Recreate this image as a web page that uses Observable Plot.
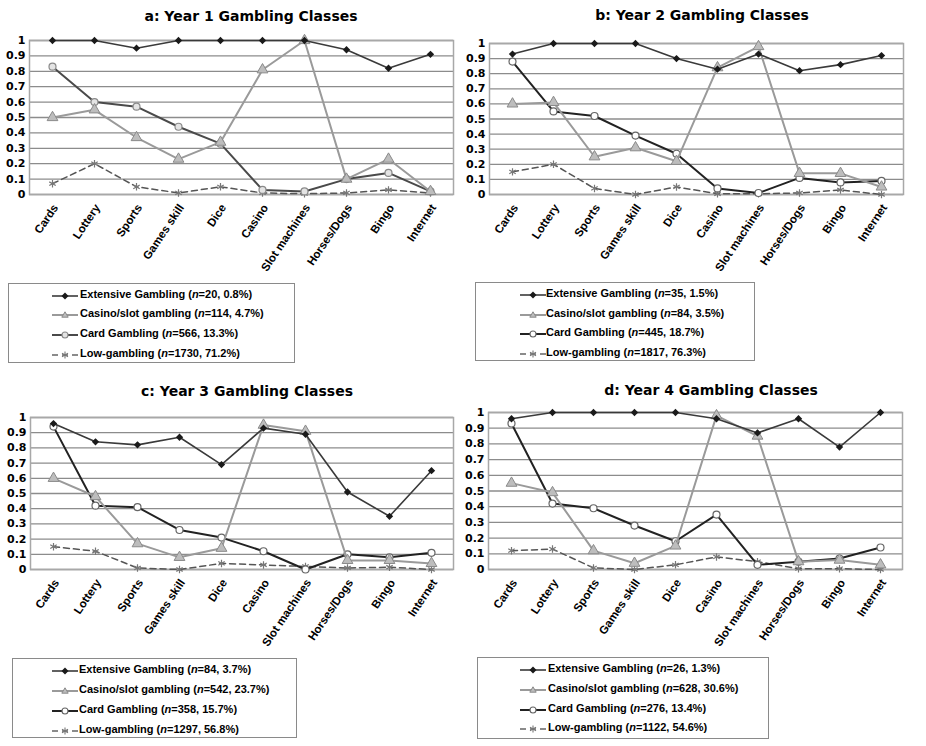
<!DOCTYPE html>
<html><head><meta charset="utf-8">
<script src="https://cdn.jsdelivr.net/npm/d3@7"></script>
<script src="https://cdn.jsdelivr.net/npm/@observablehq/plot@0.6"></script>
<style>
body{margin:0;background:#fff;}
#root{position:relative;width:926px;height:746px;overflow:hidden;font-family:"Liberation Sans",Arial,sans-serif;}
.panel{position:absolute;}
.title{position:absolute;font-family:"DejaVu Sans",sans-serif;font-weight:bold;font-size:14px;line-height:14px;white-space:nowrap;transform:translateX(-50%);color:#000;}
.legend{position:absolute;border:1.5px solid #8a8a8a;box-sizing:border-box;}
.item{position:absolute;font-weight:bold;font-size:11px;line-height:11px;white-space:nowrap;color:#000;}
.sw{position:absolute;}
</style></head><body><div id="root"></div>
<script>
// ---- data ----
const categories = ["Cards","Lottery","Sports","Games skill","Dice","Casino","Slot machines","Horses/Dogs","Bingo","Internet"];
const yTicks = [0,0.1,0.2,0.3,0.4,0.5,0.6,0.7,0.8,0.9,1];
const seriesNames = ["Extensive Gambling","Casino/slot gambling","Card Gambling","Low-gambling"];
const panelTitles = ["a: Year 1 Gambling Classes","b: Year 2 Gambling Classes","c: Year 3 Gambling Classes","d: Year 4 Gambling Classes"];

const y1Extensive = [1,1,0.95,1,1,1,1,0.94,0.82,0.91];
const y1Casino    = [0.50,0.55,0.37,0.23,0.34,0.81,1.00,0.10,0.23,0.02];
const y1Card      = [0.83,0.60,0.57,0.44,0.33,0.03,0.02,0.10,0.14,0.02];
const y1Low       = [0.07,0.20,0.05,0.01,0.05,0.01,0.005,0.01,0.03,0.01];
const y1Legend    = [["20","0.8%"],["114","4.7%"],["566","13.3%"],["1730","71.2%"]];

const y2Extensive = [0.93,1,1,1,0.90,0.83,0.93,0.82,0.86,0.92];
const y2Casino    = [0.60,0.61,0.25,0.31,0.22,0.84,0.98,0.14,0.14,0.05];
const y2Card      = [0.88,0.55,0.52,0.39,0.27,0.04,0.01,0.11,0.08,0.09];
const y2Low       = [0.15,0.20,0.04,0.00,0.05,0.005,0.005,0.01,0.03,0.00];
const y2Legend    = [["35","1.5%"],["84","3.5%"],["445","18.7%"],["1817","76.3%"]];

const y3Extensive = [0.96,0.84,0.82,0.87,0.69,0.93,0.89,0.51,0.35,0.65];
const y3Casino    = [0.60,0.48,0.17,0.08,0.14,0.95,0.91,0.06,0.06,0.04];
const y3Card      = [0.94,0.42,0.41,0.26,0.21,0.12,0.00,0.10,0.08,0.11];
const y3Low       = [0.15,0.12,0.01,0.00,0.04,0.03,0.02,0.01,0.015,0.00];
const y3Legend    = [["84","3.7%"],["542","23.7%"],["358","15.7%"],["1297","56.8%"]];

const y4Extensive = [0.96,1,1,1,1,0.96,0.87,0.96,0.78,1];
const y4Casino    = [0.55,0.49,0.12,0.04,0.15,0.98,0.85,0.05,0.06,0.03];
const y4Card      = [0.93,0.42,0.39,0.28,0.18,0.35,0.03,0.05,0.07,0.14];
const y4Low       = [0.12,0.13,0.01,0.00,0.03,0.08,0.05,0.005,0.005,0.00];
const y4Legend    = [["26","1.3%"],["628","30.6%"],["276","13.4%"],["1122","54.6%"]];

// ---- layout ----
const root = document.getElementById("root");
const panels = [
  {series:[y1Extensive,y1Casino,y1Card,y1Low], legend:y1Legend, left:0, top:0, ml:29, mr:10, mt:40, y0:194,
   title:[251,9], box:[8,283,287,80], rows:[294,313,333,353], swX:52, textX:80, cardFill:"#e4e4e4", cardStroke:"#8a8a8a", cardLine:"#4a4a4a"},
  {series:[y2Extensive,y2Casino,y2Card,y2Low], legend:y2Legend, left:463, top:0, ml:26, mr:23, mt:43, y0:194,
   title:[702,8], box:[475,282,280,79], rows:[293,313,332,352], swX:520, textX:546, cardFill:"#fff", cardStroke:"#666", cardLine:"#222"},
  {series:[y3Extensive,y3Casino,y3Card,y3Low], legend:y3Legend, left:0, top:370, ml:30, mr:10, mt:47, y0:199,
   title:[247,384], box:[12,658,285,80], rows:[669,689,709,729], swX:52, textX:79, cardFill:"#fff", cardStroke:"#666", cardLine:"#222"},
  {series:[y4Extensive,y4Casino,y4Card,y4Low], legend:y4Legend, left:463, top:370, ml:25, mr:24, mt:42, y0:199,
   title:[711,383], box:[477,657,292,82], rows:[668,688,708,727], swX:520, textX:548, cardFill:"#fff", cardStroke:"#666", cardLine:"#222"}
];

const H = 280;
panels.forEach((p, pi) => {
  const rows = [];
  p.series.forEach((vals, si) => vals.forEach((v, i) => rows.push({cat: categories[i], value: v, series: seriesNames[si]})));
  const by = s => rows.filter(r => r.series === s);
  const [ext, cas, card, low] = seriesNames.map(by);
  const svg = Plot.plot({
    width: 463, height: H,
    marginLeft: p.ml, marginRight: p.mr, marginTop: p.mt, marginBottom: H - p.y0,
    x: {type: "point", domain: categories, padding: 0.5, label: null},
    y: {domain: [0, 1], label: null},
    style: {fontFamily: "Liberation Sans, Arial, sans-serif", background: "transparent", overflow: "visible"},
    marks: [
      Plot.ruleY(yTicks, {stroke: "#8c8c8c", strokeWidth: 1.3}),
      Plot.frame({stroke: "#a8a8a8", strokeWidth: 1.5}),
      Plot.axisY(yTicks, {label: null, tickSize: 0, tickPadding: 4, tickFormat: d => String(+d.toFixed(1)),
        fontFamily: "DejaVu Sans", fontWeight: "bold", fontSize: 11, fill: "#000"}),
      Plot.axisX({label: null, tickSize: 0, tickRotate: -56, tickPadding: 11, dx: 3, fontWeight: "bold", fontSize: 11.5, fill: "#000"}),
      Plot.line(low, {x: "cat", y: "value", stroke: "#555", strokeWidth: 1.5, strokeDasharray: "6,4"}),
      Plot.dot(low, {x: "cat", y: "value", symbol: "asterisk", r: 3.5, stroke: "#777", strokeWidth: 1.2}),
      Plot.line(card, {x: "cat", y: "value", stroke: p.cardLine, strokeWidth: 2}),
      Plot.dot(card, {x: "cat", y: "value", symbol: "circle", r: 3.5, fill: p.cardFill, stroke: p.cardStroke, strokeWidth: 1.2}),
      Plot.line(cas, {x: "cat", y: "value", stroke: "#9a9a9a", strokeWidth: 2}),
      Plot.dot(cas, {x: "cat", y: "value", symbol: "triangle", r: 4, fill: "#bdbdbd", stroke: "#8a8a8a", strokeWidth: 1}),
      Plot.line(ext, {x: "cat", y: "value", stroke: "#3a3a3a", strokeWidth: 1.6}),
      Plot.dot(ext, {x: "cat", y: "value", symbol: "diamond2", r: 3.3, fill: "#1a1a1a", stroke: "none"})
    ]
  });
  const wrap = document.createElement("div");
  wrap.className = "panel";
  wrap.style.left = p.left + "px"; wrap.style.top = p.top + "px";
  wrap.appendChild(svg);
  root.appendChild(wrap);

  const t = document.createElement("div");
  t.className = "title";
  t.style.left = p.title[0] + "px"; t.style.top = p.title[1] + "px";
  t.textContent = panelTitles[pi];
  root.appendChild(t);

  const box = document.createElement("div");
  box.className = "legend";
  box.style.left = p.box[0] + "px"; box.style.top = p.box[1] + "px";
  box.style.width = p.box[2] + "px"; box.style.height = p.box[3] + "px";
  root.appendChild(box);

  const swatches = [
    `<line x1="0" y1="6" x2="26" y2="6" stroke="#3a3a3a" stroke-width="1.6"/><path d="M13,2.5L16.5,6L13,9.5L9.5,6Z" fill="#1a1a1a"/>`,
    `<line x1="0" y1="6" x2="26" y2="6" stroke="#9a9a9a" stroke-width="2"/><path d="M13,2.8L16.2,8.2L9.8,8.2Z" fill="#bdbdbd" stroke="#8a8a8a" stroke-width="1"/>`,
    `<line x1="0" y1="6" x2="26" y2="6" stroke="${p.cardLine}" stroke-width="2"/><circle cx="13" cy="6" r="3" fill="${p.cardFill}" stroke="${p.cardStroke}" stroke-width="1.1"/>`,
    `<line x1="0" y1="6" x2="26" y2="6" stroke="#666" stroke-width="1.5" stroke-dasharray="6,4"/><path d="M13,2.5V9.5M10,4.2L16,7.8M16,4.2L10,7.8" stroke="#777" stroke-width="1.1"/>`
  ];
  seriesNames.forEach((name, si) => {
    const cy = p.rows[si];
    const sw = document.createElement("div");
    sw.className = "sw";
    sw.style.left = p.swX + "px"; sw.style.top = (cy - 6) + "px";
    sw.innerHTML = `<svg width="26" height="12">${swatches[si]}</svg>`;
    root.appendChild(sw);
    const it = document.createElement("div");
    it.className = "item";
    it.style.left = p.textX + "px"; it.style.top = (cy - 5.4) + "px";
    it.innerHTML = `${name} (<i>n</i>=${p.legend[si][0]}, ${p.legend[si][1]})`;
    root.appendChild(it);
  });
});
</script></body></html>
